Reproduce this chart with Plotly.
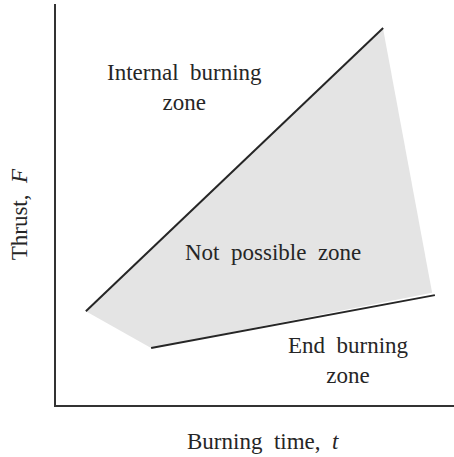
import plotly.graph_objects as go

# Schematic thrust vs burning-time regions (arbitrary units, 0-10 on both axes)
internal_boundary_t = [0.75, 8.22]
internal_boundary_F = [2.34, 9.40]
end_boundary_t = [2.39, 9.52]
end_boundary_F = [1.42, 2.74]

# Corners of the shaded "not possible" region
region_t = [0.75, 8.22, 9.45, 2.39]
region_F = [2.34, 9.37, 2.80, 1.42]

SP = "\u2002"  # wider word gap, typeset look
zone_labels = [f"Internal{SP}burning<br>zone", f"Not{SP}possible{SP}zone", f"End{SP}burning<br>zone"]
zone_t = [3.23, 5.45, 7.34]
zone_F = [7.92, 3.8, 1.1]

FONT = "Liberation Serif"
INK = "#262626"
SIZE = 23

fig = go.Figure()

fig.add_trace(go.Scatter(
    x=region_t + [region_t[0]], y=region_F + [region_F[0]],
    mode="lines", fill="toself", fillcolor="#e4e4e4",
    line=dict(width=0), hoverinfo="skip", showlegend=False,
))
fig.add_trace(go.Scatter(
    x=internal_boundary_t, y=internal_boundary_F, mode="lines",
    line=dict(color=INK, width=2), showlegend=False,
))
fig.add_trace(go.Scatter(
    x=end_boundary_t, y=end_boundary_F, mode="lines",
    line=dict(color=INK, width=2), showlegend=False,
))

for label, t, f in zip(zone_labels, zone_t, zone_F):
    fig.add_annotation(
        x=t, y=f, text=label, showarrow=False,
        font=dict(family=FONT, size=SIZE, color=INK), align="center",
    )

fig.add_annotation(
    xref="paper", yref="paper", x=0.521, y=-0.092, yanchor="middle",
    text=f"Burning{SP}time,{SP}<i>t</i>", showarrow=False,
    font=dict(family=FONT, size=SIZE, color=INK),
)
fig.add_annotation(
    xref="paper", yref="paper", x=-0.091, y=0.475, xanchor="center",
    text=f"Thrust,{SP}<i>F</i>", textangle=-90, showarrow=False,
    font=dict(family=FONT, size=SIZE, color=INK),
)

fig.update_xaxes(
    range=[0, 10], showline=True, linecolor="#333", linewidth=2,
    showgrid=False, zeroline=False, showticklabels=False, ticks="",
)
fig.update_yaxes(
    range=[0, 10], showline=True, linecolor="#333", linewidth=2,
    showgrid=False, zeroline=False, showticklabels=False, ticks="",
)

fig.update_layout(
    width=454, height=457,
    margin=dict(l=56, r=0, t=4, b=52),
    paper_bgcolor="white", plot_bgcolor="white",
)

fig.write_html("out.html")
